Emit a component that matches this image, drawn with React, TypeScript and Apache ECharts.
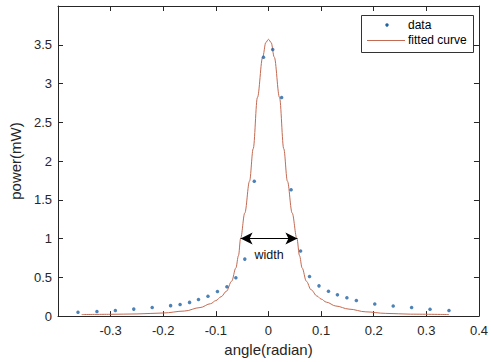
import React, { useEffect, useRef } from "react";
import * as echarts from "echarts";

// measured data points (angle in radian, power in mW)
const dataX = [-0.362, -0.326, -0.291, -0.256, -0.221, -0.186, -0.168, -0.15, -0.133, -0.115, -0.097, -0.079, -0.062, -0.045, -0.027, -0.0095, 0.008, 0.025, 0.043, 0.061, 0.078, 0.096, 0.114, 0.131, 0.149, 0.167, 0.202, 0.237, 0.272, 0.307, 0.343];
const dataY = [0.05, 0.06, 0.072, 0.09, 0.11, 0.135, 0.15, 0.177, 0.215, 0.255, 0.316, 0.378, 0.495, 0.735, 1.74, 3.34, 3.44, 2.82, 1.63, 0.84, 0.51, 0.39, 0.32, 0.274, 0.236, 0.2, 0.157, 0.13, 0.11, 0.089, 0.072];

// fitted curve
const curveX = [-0.355, -0.3, -0.25, -0.2, -0.16, -0.13, -0.11, -0.1, -0.09, -0.08, -0.07, -0.062, -0.057, -0.053, -0.045, -0.036, -0.029, -0.021, -0.011, -0.005, 0, 0.005, 0.011, 0.021, 0.029, 0.036, 0.045, 0.054, 0.059, 0.064, 0.072, 0.081, 0.092, 0.1, 0.11, 0.128, 0.153, 0.185, 0.223, 0.27, 0.343];
const curveY = [0.02, 0.023, 0.028, 0.04, 0.065, 0.11, 0.16, 0.2, 0.25, 0.32, 0.45, 0.62, 0.78, 1.0, 1.33, 1.74, 2.16, 2.82, 3.34, 3.53, 3.57, 3.53, 3.34, 2.82, 2.16, 1.74, 1.33, 1.0, 0.78, 0.62, 0.45, 0.34, 0.26, 0.22, 0.18, 0.13, 0.09, 0.055, 0.035, 0.025, 0.02];

// width annotation
const widthStart = [-0.053, 1.0];
const widthEnd = [0.055, 1.0];
const widthLabel = "width";

const seriesNames = ["data", "fitted curve"];
const xAxisTitle = "angle(radian)";
const yAxisTitle = "power(mW)";

const FONT = '"Liberation Sans", Arial, sans-serif';
const AX = "#262626";
const DOT = "#1f63a3";
const CURVE = "#c46a52";

export default function App() {
  const ref = useRef<HTMLDivElement>(null);
  useEffect(() => {
    if (!ref.current) return;
    const chart = echarts.init(ref.current, null, { renderer: "svg" });
    const axLine = { show: true, onZero: false, lineStyle: { color: AX, width: 1 } };
    const tick = { show: true, inside: true, length: 5, lineStyle: { color: AX, width: 1 } };
    chart.setOption({
      animation: false,
      backgroundColor: "#fff",
      grid: { left: 58, right: 12, top: 6, bottom: 40, containLabel: false },
      xAxis: [
        {
          type: "value",
          min: -0.4,
          max: 0.4,
          interval: 0.1,
          axisLine: axLine,
          axisTick: tick,
          splitLine: { show: false },
          axisLabel: {
            color: AX,
            fontSize: 13,
            fontFamily: FONT,
            margin: 8,
            formatter: (v: number) => (Math.abs(v + 0.4) < 1e-9 ? "" : String(Math.round(v * 10) / 10)),
          },
          name: xAxisTitle,
          nameLocation: "middle",
          nameGap: 23,
          nameTextStyle: { color: AX, fontSize: 15, fontFamily: FONT },
        },
        {
          type: "value",
          position: "top",
          min: -0.4,
          max: 0.4,
          interval: 0.1,
          axisLine: axLine,
          axisTick: tick,
          axisLabel: { show: false },
          splitLine: { show: false },
        },
      ],
      yAxis: [
        {
          type: "value",
          min: 0,
          max: 4,
          interval: 0.5,
          axisLine: axLine,
          axisTick: tick,
          splitLine: { show: false },
          axisLabel: {
            color: AX,
            fontSize: 13,
            fontFamily: FONT,
            margin: 6,
            formatter: (v: number) => (v >= 3.99 ? "" : String(v)),
          },
          name: yAxisTitle,
          nameLocation: "middle",
          nameGap: 28,
          nameTextStyle: { color: AX, fontSize: 15, fontFamily: FONT },
        },
        {
          type: "value",
          position: "right",
          min: 0,
          max: 4,
          interval: 0.5,
          axisLine: axLine,
          axisTick: tick,
          axisLabel: { show: false },
          splitLine: { show: false },
        },
      ],
      series: [
        {
          name: seriesNames[1],
          type: "line",
          data: curveX.map((x, i) => [x, curveY[i]]),
          showSymbol: false,
          symbol: "none",
          smooth: 0.35,
          smoothMonotone: "x",
          lineStyle: { color: CURVE, width: 1 },
          z: 2,
          markLine: {
            silent: true,
            symbol: ["arrow", "arrow"],
            symbolSize: [9, 12],
            lineStyle: { color: "#000", type: "solid", width: 1 },
            label: {
              show: true,
              formatter: widthLabel,
              position: "insideMiddleBottom",
              color: "#111",
              fontSize: 12.5,
              fontFamily: FONT,
              distance: 10,
            },
            data: [[{ coord: widthStart }, { coord: widthEnd }]],
          },
        },
        {
          name: seriesNames[0],
          type: "scatter",
          data: dataX.map((x, i) => [x, dataY[i]]),
          symbol: "circle",
          symbolSize: 3.5,
          itemStyle: { color: DOT },
          z: 3,
        },
      ],
      graphic: [
        { type: "rect", shape: { x: 361.5, y: 15.5, width: 112, height: 37 }, style: { fill: "#fff", stroke: "#333", lineWidth: 1 }, z: 10 },
        { type: "circle", shape: { cx: 387, cy: 25, r: 1.7 }, style: { fill: DOT }, z: 11 },
        { type: "text", x: 408, y: 25, style: { text: seriesNames[0], fontSize: 12, fontFamily: FONT, fill: "#000", verticalAlign: "middle" }, z: 11 },
        { type: "line", shape: { x1: 367, y1: 40.5, x2: 405, y2: 40.5 }, style: { stroke: CURVE, lineWidth: 1 }, z: 11 },
        { type: "text", x: 408, y: 40, style: { text: seriesNames[1], fontSize: 12, fontFamily: FONT, fill: "#000", verticalAlign: "middle" }, z: 11 },
      ],
    });
    return () => chart.dispose();
  }, []);
  return <div ref={ref} style={{ position: "fixed", left: 0, top: 0, width: 491, height: 362 }} />;
}
